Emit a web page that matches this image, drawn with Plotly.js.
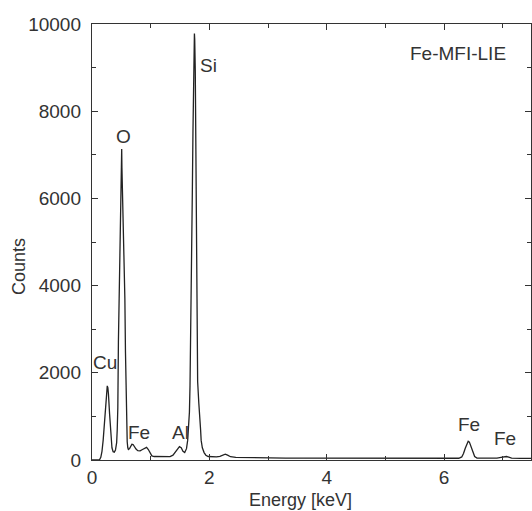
<!DOCTYPE html>
<html>
<head>
<meta charset="utf-8">
<script src="https://cdn.plot.ly/plotly-3.0.1.min.js"></script>
<style>
  html, body { margin: 0; padding: 0; background: #fff; }
  #chart { width: 532px; height: 511px; }
</style>
</head>
<body>
<div id="chart"></div>
<script>
// EDX spectrum of Fe-MFI-LIE: energy (keV) vs. counts
const energy = [
  0.00, 0.10, 0.13, 0.15, 0.17, 0.19, 0.21, 0.23, 0.25, 0.26, 0.27, 0.28, 0.30, 0.32, 0.34, 0.36, 0.38,
  0.40, 0.42, 0.43, 0.44, 0.45, 0.46, 0.47, 0.48, 0.49, 0.50, 0.506, 0.51, 0.52, 0.53, 0.54, 0.55, 0.56,
  0.57, 0.58, 0.59, 0.60, 0.61, 0.62, 0.64, 0.66, 0.68, 0.70, 0.72, 0.75, 0.78, 0.82, 0.86, 0.90, 0.93,
  0.96, 0.99, 1.02, 1.06, 1.15, 1.25, 1.33, 1.38, 1.42, 1.46, 1.49, 1.52, 1.55, 1.58, 1.61, 1.63, 1.65,
  1.66, 1.67, 1.68, 1.69, 1.70, 1.71, 1.72, 1.73, 1.74, 1.745, 1.75, 1.76, 1.77, 1.78, 1.79, 1.80, 1.82,
  1.84, 1.85, 1.86, 1.88, 1.91, 1.94, 1.98, 2.05, 2.12, 2.18, 2.23, 2.27, 2.31, 2.36, 2.45, 2.60, 2.80,
  3.00, 3.30, 3.60, 4.00, 4.50, 5.00, 5.50, 6.00, 6.25, 6.30, 6.33, 6.36, 6.39, 6.41, 6.43, 6.46, 6.49,
  6.52, 6.56, 6.70, 6.90, 6.97, 7.02, 7.06, 7.10, 7.15, 7.30, 7.50
];
const counts = [
  0, 0, 10, 60, 200, 450, 850, 1300, 1640, 1700, 1660, 1520, 1050, 560, 280, 190, 180,
  230, 400, 700, 1200, 2700, 3400, 4300, 5400, 6200, 6900, 7130, 6700, 6100, 5600, 5100, 4400, 3700,
  2500, 1500, 800, 420, 280, 240, 260, 320, 360, 355, 310, 250, 215, 210, 240, 280, 290,
  240, 150, 95, 80, 75, 72, 78, 110, 180, 270, 305, 280, 200, 170, 260, 450, 800,
  1100, 1700, 2600, 3700, 4900, 6200, 7500, 8700, 9600, 9780, 9650, 8900, 6400, 3700, 2400, 1800, 1300,
  1000, 700, 450, 280, 170, 110, 80, 70, 72, 85, 120, 135, 110, 75, 60, 55, 50,
  48, 45, 42, 40, 38, 36, 35, 35, 40, 70, 150, 270, 390, 430, 410, 300, 160,
  80, 45, 38, 45, 60, 75, 80, 65, 45, 35, 35
];

// Peak labels: element, energy position, counts position
const peakLabels = ["Cu", "O", "Fe", "Al", "Si", "Fe", "Fe"];
const peakLabelX = [0.22, 0.54, 0.80, 1.51, 1.98, 6.43, 7.04];
const peakLabelY = [2230, 7430, 630, 630, 9050, 820, 490];

const sampleName = "Fe-MFI-LIE";
const xTitle = "Energy [keV]";
const yTitle = "Counts";

const font = "Liberation Sans, Arial, Helvetica, sans-serif";
const ink = "#333";

const annotations = peakLabels.map((t, i) => ({
  text: t, x: peakLabelX[i], y: peakLabelY[i], xref: "x", yref: "y",
  showarrow: false, xanchor: "center", yanchor: "middle",
  font: { family: font, size: 19, color: ink }
}));
annotations.push({
  text: sampleName, x: 0.948, y: 0.933, xref: "paper", yref: "paper",
  showarrow: false, xanchor: "right", yanchor: "middle",
  font: { family: font, size: 19, color: ink }
});
annotations.push({
  text: xTitle, x: 0.474, y: -0.092, xref: "paper", yref: "paper",
  showarrow: false, xanchor: "center", yanchor: "middle",
  font: { family: font, size: 18, color: ink }
});
annotations.push({
  text: yTitle, x: -0.165, y: 0.444, xref: "paper", yref: "paper",
  showarrow: false, xanchor: "center", yanchor: "middle", textangle: -90,
  font: { family: font, size: 18, color: ink }
});

const trace = {
  x: energy, y: counts, type: "scatter", mode: "lines",
  line: { color: "#222", width: 1.3 },
  hoverinfo: "skip"
};

const axisCommon = {
  showgrid: false, zeroline: false,
  showline: true, linecolor: "#333", linewidth: 1.2, mirror: "ticks",
  ticks: "inside", ticklen: 6, tickwidth: 1.2, tickcolor: "#333",
  tickfont: { family: font, size: 19, color: ink }
};

const layout = {
  width: 532, height: 511,
  margin: { l: 92, r: 1, t: 24, b: 51 },
  paper_bgcolor: "#fff", plot_bgcolor: "#fff",
  showlegend: false,
  xaxis: Object.assign({}, axisCommon, {
    range: [0, 7.48], tick0: 0, dtick: 2, tickformat: "d",
    minor: { dtick: 1, ticks: "inside", ticklen: 4, tickwidth: 1, tickcolor: "#333" }
  }),
  yaxis: Object.assign({}, axisCommon, {
    range: [0, 10000], tick0: 0, dtick: 2000, tickformat: "d",
    ticklabelstandoff: 6,
    minor: { dtick: 1000, ticks: "inside", ticklen: 4, tickwidth: 1, tickcolor: "#333" }
  }),
  annotations: annotations
};

Plotly.newPlot("chart", [trace], layout, { staticPlot: true, displayModeBar: false });
</script>
</body>
</html>
